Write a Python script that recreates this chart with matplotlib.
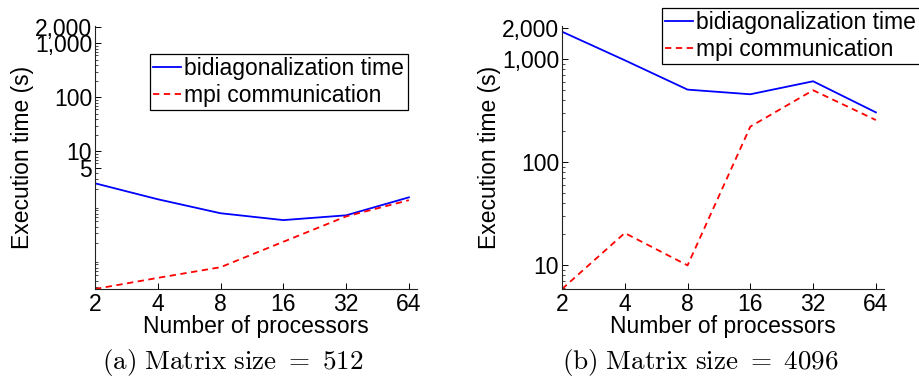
import matplotlib.pyplot as plt
from matplotlib.ticker import FixedLocator, FixedFormatter, NullFormatter, LogLocator

# Data
procs = [2, 4, 8, 16, 32, 64]
bidiag_512 = [2.55, 1.29, 0.71, 0.53, 0.65, 1.40]
mpi_512 = [0.028, 0.045, 0.071, 0.21, 0.62, 1.24]
bidiag_4096 = [1850, 977, 507, 457, 611, 305]
mpi_4096 = [5.9, 20.6, 10.0, 222, 500, 257]

ytick_512 = [5, 10, 100, 1000, 2000]
ytick_4096 = [10, 100, 1000, 2000]

plt.rcParams['font.family'] = ['Liberation Sans', 'DejaVu Sans']
plt.rcParams['mathtext.fontset'] = 'cm'
fs = 16.5

W, H = 919, 382
fig = plt.figure(figsize=(W / 100, H / 100), dpi=100)


def make_axes(x0, x1, y0, y1):
    return fig.add_axes([x0 / W, 1 - y1 / H, (x1 - x0) / W, (y1 - y0) / H])


def style(ax, ylim, yticks):
    ax.set_xscale('log', base=2)
    ax.set_yscale('log')
    ax.set_xlim(2, 70)
    ax.set_ylim(*ylim)
    ax.xaxis.set_major_locator(FixedLocator(procs))
    ax.xaxis.set_major_formatter(FixedFormatter([str(p) for p in procs]))
    ax.xaxis.set_minor_locator(FixedLocator([]))
    ax.yaxis.set_major_locator(FixedLocator(yticks))
    ax.yaxis.set_major_formatter(FixedFormatter([f'{t:,}' for t in yticks]))
    ax.yaxis.set_minor_locator(LogLocator(base=10, subs=range(2, 10)))
    ax.yaxis.set_minor_formatter(NullFormatter())
    ax.spines['top'].set_visible(False)
    ax.spines['right'].set_visible(False)
    for s in ('left', 'bottom'):
        ax.spines[s].set_linewidth(0.8)
        ax.spines[s].set_color('#222222')
    ax.tick_params(which='major', direction='in', length=4, width=0.7,
                   labelsize=fs, pad=2)
    ax.tick_params(axis='x', which='major', pad=3)
    ax.tick_params(which='minor', direction='in', length=2, width=0.5)
    ax.set_xlabel('Number of processors', fontsize=fs, labelpad=-1)
    ax.set_ylabel('Execution time (s)', fontsize=fs, labelpad=1)


def draw(ax, bid, mpi, legend_xy):
    ax.plot(procs, bid, color='#0000ff', lw=1.3, label='bidiagonalization time')
    ax.plot(procs, mpi, color='#ff0000', lw=1.3, dashes=(3.5, 2.5),
            label='mpi communication')
    leg = ax.legend(loc='upper left', bbox_to_anchor=legend_xy,
                    bbox_transform=fig.transFigure, fontsize=fs,
                    frameon=True, fancybox=False, framealpha=1,
                    handlelength=1.2, handletextpad=0.15, labelspacing=0.15,
                    borderpad=0.15, borderaxespad=0)
    leg.get_frame().set_edgecolor('black')
    leg.get_frame().set_linewidth(0.9)


ax1 = make_axes(95, 417, 26, 289)
style(ax1, (0.028, 2100), ytick_512)
draw(ax1, bidiag_512, mpi_512, (150 / W, 1 - 54 / H))

ax2 = make_axes(562, 884, 26, 289)
style(ax2, (5.9, 2100), ytick_4096)
draw(ax2, bidiag_4096, mpi_4096, (662 / W, 1 - 8 / H))

fig.text(233 / W, 1 - 363 / H, r'$\mathrm{(a)\ Matrix\ size}\ =\ 512$',
         ha='center', va='center', fontsize=19.5)
fig.text(700 / W, 1 - 363 / H, r'$\mathrm{(b)\ Matrix\ size}\ =\ 4096$',
         ha='center', va='center', fontsize=19.5)

plt.savefig('out.png', dpi=100)
